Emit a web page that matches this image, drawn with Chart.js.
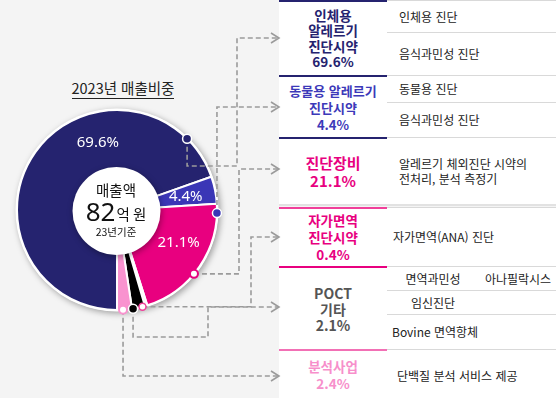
<!DOCTYPE html>
<html lang="ko">
<head>
<meta charset="utf-8">
<script src="https://cdn.jsdelivr.net/npm/chart.js@4"></script>
<style>
  html, body { margin: 0; padding: 0; }
  body {
    width: 556px; height: 398px; position: relative; overflow: hidden;
    background: #f4f4f4; color: #222;
    font-family: "Noto Sans CJK KR", "Noto Sans", sans-serif;
  }
  #title {
    position: absolute; left: 60px; width: 126px; top: 79px;
    text-align: center; font-size: 14.5px; line-height: 18px;
  }
  #title span { border-bottom: 1px solid #222; }
  #chart { position: absolute; left: 0; top: 0; z-index: 2; }
  .row { position: absolute; left: 279px; width: 277px; background: #fff; }
  .head {
    position: absolute; left: 0; top: 0; bottom: 0; width: 108px; box-sizing: border-box;
    display: flex; align-items: center; justify-content: center; text-align: center;
    font-weight: 700; font-size: 13.5px; line-height: 17px; border-top: 2px solid;
  }
  .desc {
    position: absolute; left: 108px; right: 0; top: 0; bottom: 0; box-sizing: border-box;
    border-top: 1px solid #d9d9d9;
  }
  .cell {
    position: absolute; left: 0; right: 0; box-sizing: border-box;
    display: flex; align-items: center; padding-left: 12px;
    font-size: 12px; line-height: 14.5px;
  }
  .cell.line { border-top: 1px solid #d9d9d9; }
  .cell span.c { position: absolute; transform: translateX(-50%); white-space: nowrap; }
</style>
</head>
<body>
<div id="title"><span>2023년 매출비중</span></div>

<div class="row" style="top:0;height:75px">
  <div class="head" style="color:#25236f;border-color:#25236f;line-height:15.5px">인체용<br>알레르기<br>진단시약<br>69.6%</div>
  <div class="desc">
    <div class="cell" style="top:0;height:32px">인체용 진단</div>
    <div class="cell line" style="top:31px;height:44px">음식과민성 진단</div>
  </div>
</div>

<div class="row" style="top:75px;height:62px">
  <div class="head" style="color:#3c39b9;border-color:#25236f;font-size:13px">동물용 알레르기<br>진단시약<br>4.4%</div>
  <div class="desc">
    <div class="cell" style="top:0;height:27px">동물용 진단</div>
    <div class="cell line" style="top:26px;height:36px">음식과민성 진단</div>
  </div>
</div>

<div class="row" style="top:137px;height:67px;border-bottom:2px solid #e2e2e2">
  <div class="head" style="color:#e8007f;border-color:#25236f;font-size:15px;line-height:18px">진단장비<br>21.1%</div>
  <div class="desc">
    <div class="cell" style="top:0;height:67px">알레르기 체외진단 시약의<br>전처리, 분석 측정기</div>
  </div>
</div>

<div class="row" style="top:207px;height:59px">
  <div class="head" style="color:#e8007f;border-color:#f0409a">자가면역<br>진단시약<br>0.4%</div>
  <div class="desc">
    <div class="cell" style="top:0;height:59px;padding-left:6px">자가면역(ANA) 진단</div>
  </div>
</div>

<div class="row" style="top:266px;height:83px">
  <div class="head" style="color:#555;border-color:#e8007f;font-size:14px;line-height:16px">POCT<br>기타<br>2.1%</div>
  <div class="desc">
    <div class="cell" style="top:0;height:24px"><span class="c" style="left:46px">면역과민성</span><span class="c" style="left:131px">아나필락시스</span></div>
    <div class="cell line" style="top:23px;height:25px"><span class="c" style="left:46px">임신진단</span></div>
    <div class="cell line" style="top:47px;height:36px;padding-left:5px">Bovine 면역항체</div>
  </div>
</div>

<div class="row" style="top:349px;height:49px">
  <div class="head" style="color:#f78fcb;border-color:#f270b5">분석사업<br>2.4%</div>
  <div class="desc">
    <div class="cell" style="top:0;height:52px;padding-left:10px">단백질 분석 서비스 제공</div>
  </div>
</div>

<canvas id="chart" width="556" height="398"></canvas>

<script>
const categories = ["인체용 알레르기 진단시약", "동물용 알레르기 진단시약", "진단장비", "자가면역 진단시약", "POCT 기타", "분석사업"];
const shares = [69.6, 4.4, 21.1, 0.4, 2.1, 2.4];
const shareLabels = ["69.6%", "4.4%", "21.1%", "", "", ""];

// slice styling
const sliceColors = ["#25236f", "#3a36b6", "#e8007f", "#fbe3ef", "#000000", "#f993cf"];
// where the % label sits along each slice (fraction of the arc)
const labelAt = [0.655, 0.53, 0.42];
// where each connector dot sits along its slice
const dotAt = [0.896, 1.34, 0.57, 2.0, 0.92, 0.6];
const dotStyle = [
  { fill: "#25236f", stroke: "#fff", r: 4.5, w: 1.5 },
  { fill: "#3a36b6", stroke: "#fff", r: 4.5, w: 1.5 },
  { fill: "#fff", stroke: "#e8007f", r: 4, w: 2 },
  { fill: "#fff", stroke: "#f0409a", r: 3.5, w: 1.5 },
  { fill: "#000", stroke: "#fff", r: 4.5, w: 1.5 },
  { fill: "#fff", stroke: "#f993cf", r: 4, w: 2 },
];
// connector routes from each dot to its row (v = go to y, h = go to x)
const routes = [
  [["v", 166], ["h", 237], ["v", 38], ["h", 279]],
  [["v", 107], ["h", 279]],
  [["h", 239], ["v", 169], ["h", 279]],
  [["h", 251], ["v", 237], ["h", 279]],
  [["v", 337], ["h", 208], ["v", 307], ["h", 279]],
  [["v", 376], ["h", 279]],
];

function pointOnArc(arc, frac, r) {
  const a = arc.startAngle + (arc.endAngle - arc.startAngle) * frac;
  return { x: arc.x + Math.cos(a) * r, y: arc.y + Math.sin(a) * r };
}

const infographic = {
  id: "infographic",
  beforeDatasetsDraw(chart) {
    const arc = chart.getDatasetMeta(0).data[0];
    const ctx = chart.ctx;
    // soft shadow behind the ring
    ctx.save();
    ctx.shadowColor = "rgba(0,0,0,0.35)";
    ctx.shadowBlur = 6;
    ctx.shadowOffsetX = 2;
    ctx.shadowOffsetY = 2;
    ctx.fillStyle = "#fff";
    ctx.beginPath();
    ctx.arc(arc.x, arc.y, arc.outerRadius + 1.5, 0, Math.PI * 2);
    ctx.fill();
    ctx.restore();
  },
  afterDatasetsDraw(chart) {
    const arcs = chart.getDatasetMeta(0).data;
    const ctx = chart.ctx;
    const cx = arcs[0].x, cy = arcs[0].y;

    // white centre disc
    ctx.save();
    ctx.shadowColor = "rgba(0,0,0,0.35)";
    ctx.shadowBlur = 6;
    ctx.shadowOffsetX = 1;
    ctx.shadowOffsetY = 2;
    ctx.fillStyle = "#fff";
    ctx.beginPath();
    ctx.arc(cx - 0.5, cy + 1, 44, 0, Math.PI * 2);
    ctx.fill();
    ctx.restore();

    // centre texts
    ctx.save();
    ctx.fillStyle = "#111";
    ctx.textAlign = "center";
    ctx.textBaseline = "middle";
    ctx.font = "14.5px 'Noto Sans CJK KR'";
    ctx.fillText("매출액", cx - 1, cy - 20);
    const big = "82", small = "억 원";
    ctx.font = "26px 'Noto Sans'";
    const wBig = ctx.measureText(big).width;
    ctx.font = "14.5px 'Noto Sans CJK KR'";
    const wSmall = ctx.measureText(small).width;
    let x0 = cx - 1 - (wBig + 1 + wSmall) / 2;
    ctx.textAlign = "left";
    ctx.textBaseline = "alphabetic";
    ctx.font = "26px 'Noto Sans'";
    ctx.fillText(big, x0, cy + 11);
    ctx.font = "14.5px 'Noto Sans CJK KR'";
    ctx.fillText(small, x0 + wBig + 1, cy + 10);
    ctx.textAlign = "center";
    ctx.textBaseline = "middle";
    ctx.font = "10.5px 'Noto Sans CJK KR'";
    ctx.fillText("23년기준", cx - 1, cy + 22);
    ctx.restore();

    // % labels inside slices
    ctx.save();
    ctx.fillStyle = "#fff";
    ctx.textAlign = "center";
    ctx.textBaseline = "middle";
    ctx.font = "15px 'Noto Sans'";
    labelAt.forEach((f, i) => {
      if (!shareLabels[i]) return;
      const p = pointOnArc(arcs[i], f, 70);
      ctx.fillText(shareLabels[i], p.x, p.y);
    });
    ctx.restore();

    // dashed connectors with open arrow heads
    const dots = arcs.map((arc, i) => pointOnArc(arc, dotAt[i], arc.outerRadius));
    ctx.save();
    ctx.strokeStyle = "#9b9b9b";
    ctx.lineWidth = 1.6;
    routes.forEach((route, i) => {
      let x = dots[i].x, y = dots[i].y;
      ctx.setLineDash([5, 3]);
      ctx.beginPath();
      ctx.moveTo(x, y);
      route.forEach(([dir, v]) => {
        if (dir === "v") y = v; else x = v;
        ctx.lineTo(x, y);
      });
      ctx.stroke();
      ctx.setLineDash([]);
      ctx.beginPath();
      ctx.moveTo(x - 8, y - 5);
      ctx.lineTo(x, y);
      ctx.lineTo(x - 8, y + 5);
      ctx.stroke();
    });
    ctx.restore();

    // dots on the ring
    ctx.save();
    dots.forEach((p, i) => {
      const s = dotStyle[i];
      ctx.beginPath();
      ctx.arc(p.x, p.y, s.r, 0, Math.PI * 2);
      ctx.fillStyle = s.fill;
      ctx.fill();
      ctx.lineWidth = s.w;
      ctx.strokeStyle = s.stroke;
      ctx.stroke();
    });
    ctx.restore();
  },
};

new Chart(document.getElementById("chart"), {
  type: "doughnut",
  data: {
    labels: categories,
    datasets: [{
      data: shares,
      backgroundColor: sliceColors,
      borderColor: "#fff",
      borderWidth: 2,
    }],
  },
  options: {
    responsive: false,
    animation: false,
    devicePixelRatio: 1,
    rotation: 180,
    radius: 100,
    cutout: 38,
    layout: { padding: { left: 0, right: 322, top: 22, bottom: 0 } },
    plugins: {
      legend: { display: false },
      tooltip: { enabled: false },
    },
  },
  plugins: [infographic],
});
</script>
</body>
</html>
